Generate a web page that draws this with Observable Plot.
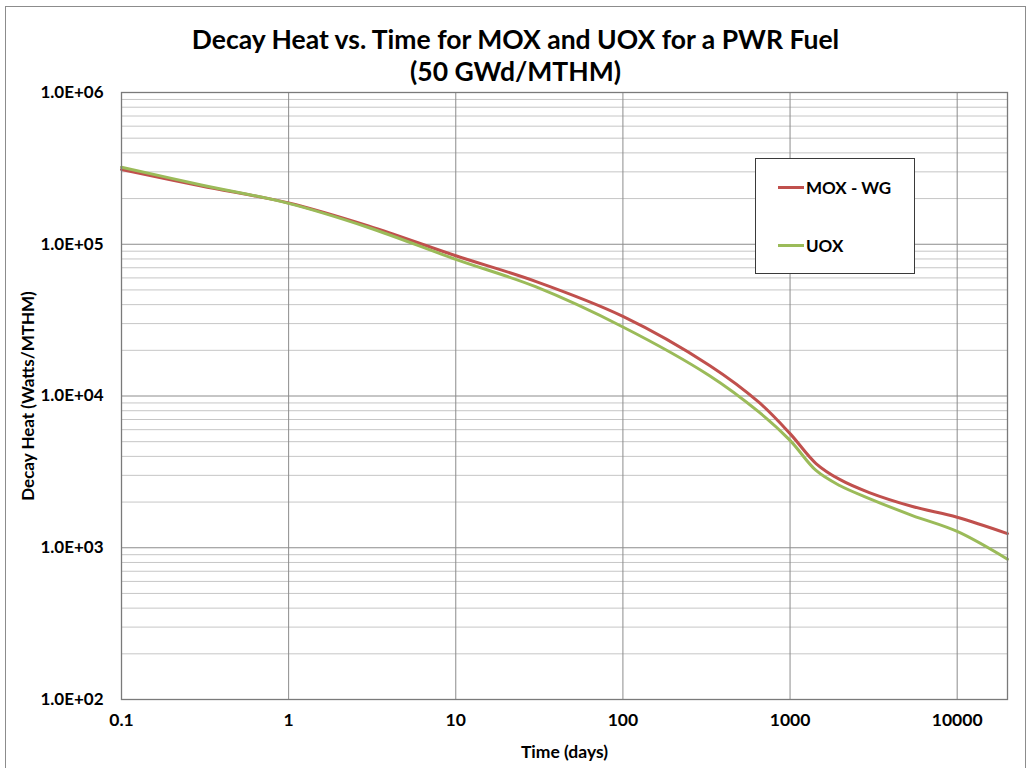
<!DOCTYPE html>
<html>
<head>
<meta charset="utf-8">
<script src="https://cdn.jsdelivr.net/npm/d3@7"></script>
<script src="https://cdn.jsdelivr.net/npm/@observablehq/plot@0.6"></script>
<style>
  html, body { margin: 0; padding: 0; background: #fff; }
  body { width: 1031px; height: 768px; overflow: hidden; position: relative; font-family: Lato, "Open Sans", sans-serif; }
  #frame { position: absolute; left: 5px; top: 6px; width: 1021px; height: 800px; border: 1px solid #8c8c8c; box-sizing: border-box; pointer-events: none; }
  #title { height: 80px; text-align: center; font-weight: bold; font-size: 26.5px; line-height: 32px; padding-top: 23px; box-sizing: border-box; color: #000; }
  #legend { position: absolute; left: 755px; top: 158px; width: 160px; height: 116px; border: 1px solid #3a3a3a; box-sizing: border-box; background: #fff; }
  .item { position: absolute; left: 22px; height: 20px; display: flex; align-items: center; font-weight: bold; font-size: 17px; color: #000; }
  .swatch { width: 26px; height: 3px; margin-right: 2px; }
  #chart svg { display: block; }
</style>
</head>
<body>
<div id="frame"></div>
<div id="title">Decay Heat vs. Time for MOX and UOX for a PWR Fuel<br>(50 GWd/MTHM)</div>
<div id="chart"></div>
<div id="legend"></div>
<script>
// Time (days)
const times = [0.1, 0.3, 1, 3, 10, 30, 100, 330, 650, 1000, 1430, 1980, 2980, 5400, 10000, 20000];
// Decay heat (Watts/MTHM)
const moxWG = [311000, 242000, 187000, 132000, 84000, 57000, 33500, 15900, 9100, 5650, 3590, 2820, 2310, 1870, 1590, 1240];
const uox   = [322000, 246000, 186000, 129000, 79500, 52500, 28500, 13600, 7850, 5100, 3230, 2570, 2110, 1630, 1280, 840];

const seriesNames = ["MOX - WG", "UOX"];
const seriesColors = ["#C0504D", "#9BBB59"];

const xTicks = [0.1, 1, 10, 100, 1000, 10000];
const yTicks = [1e2, 1e3, 1e4, 1e5, 1e6];
const yTickLabels = ["1.0E+02", "1.0E+03", "1.0E+04", "1.0E+05", "1.0E+06"];

const xLabel = "Time (days)";
const yLabel = "Decay Heat (Watts/MTHM)";

const rows = [];
times.forEach((t, i) => rows.push({time: t, value: moxWG[i], series: seriesNames[0]}));
times.forEach((t, i) => rows.push({time: t, value: uox[i], series: seriesNames[1]}));

const minorY = [];
yTicks.slice(0, -1).forEach(d => { for (let k = 2; k <= 9; k++) minorY.push(d * k); });

const chart = Plot.plot({
  width: 1031,
  height: 688,
  marginTop: 12,
  marginBottom: 69,
  marginLeft: 121,
  marginRight: 24,
  style: {fontFamily: "Lato, 'Open Sans', sans-serif", fontSize: "17px", fontWeight: "bold", color: "#000", background: "transparent"},
  x: {type: "log", domain: [0.1, 20000]},
  y: {type: "log", domain: [1e2, 1e6]},
  color: {domain: seriesNames, range: seriesColors},
  marks: [
    Plot.ruleY(minorY, {stroke: "#c6c6c6", strokeWidth: 1}),
    Plot.ruleY(yTicks, {stroke: "#8c8c8c", strokeWidth: 1}),
    Plot.ruleX(xTicks, {stroke: "#8c8c8c", strokeWidth: 1}),
    Plot.line(rows, {x: "time", y: "value", z: "series", stroke: "series", strokeWidth: 3, curve: "catmull-rom"}),
    Plot.frame({stroke: "#7a7a7a", strokeWidth: 1.3}),
    Plot.axisX({ticks: xTicks, tickFormat: d => String(d), tickSize: 0, tickPadding: 14, label: xLabel, labelAnchor: "center", labelArrow: "none", labelOffset: 58, fontSize: 17.5}),
    Plot.axisY({ticks: yTicks, tickFormat: d => yTickLabels[yTicks.indexOf(d)], tickSize: 0, tickPadding: 18, label: yLabel, labelAnchor: "center", labelArrow: "none", labelOffset: 100})
  ]
});
document.getElementById("chart").appendChild(chart);

const legend = document.getElementById("legend");
const legendTops = [18, 76];
seriesNames.forEach((name, i) => {
  const item = document.createElement("div");
  item.className = "item";
  item.style.top = legendTops[i] + "px";
  const sw = document.createElement("span");
  sw.className = "swatch";
  sw.style.background = seriesColors[i];
  const tx = document.createElement("span");
  tx.textContent = name;
  item.appendChild(sw);
  item.appendChild(tx);
  legend.appendChild(item);
});
</script>
</body>
</html>
